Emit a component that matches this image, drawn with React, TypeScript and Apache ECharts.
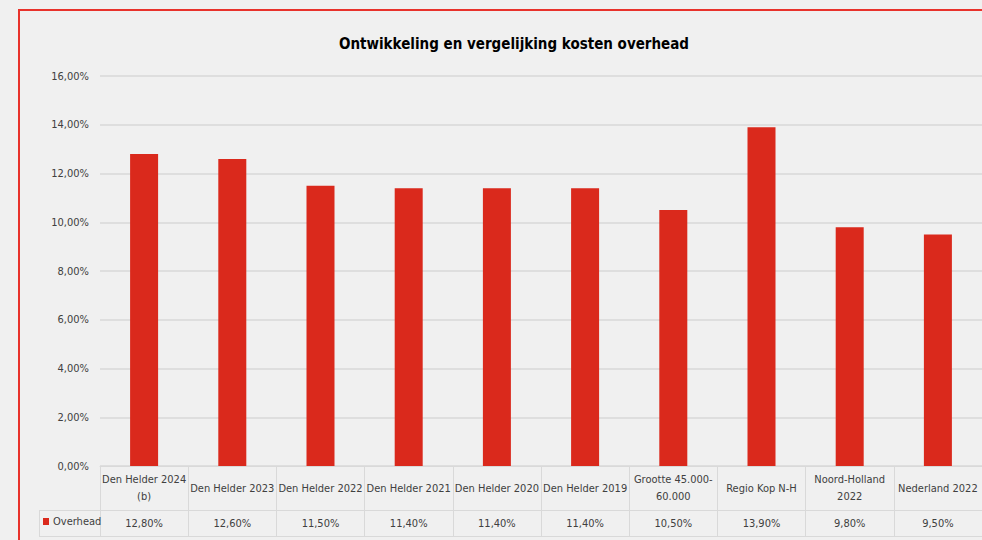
import React, { useEffect, useRef } from "react";
import * as echarts from "echarts";

const categories = [
  "Den Helder 2024\n(b)",
  "Den Helder 2023",
  "Den Helder 2022",
  "Den Helder 2021",
  "Den Helder 2020",
  "Den Helder 2019",
  "Grootte 45.000-\n60.000",
  "Regio Kop N-H",
  "Noord-Holland\n2022",
  "Nederland 2022",
];
const overhead = [12.8, 12.6, 11.5, 11.4, 11.4, 11.4, 10.5, 13.9, 9.8, 9.5];
const seriesName = "Overhead";
const titleText = "Ontwikkeling en vergelijking kosten overhead";

const FONT = "'Liberation Sans Narrow', 'DejaVu Sans Condensed', sans-serif";
const fmt = (v: number) => v.toFixed(2).replace(".", ",") + "%";

export default function App() {
  const ref = useRef<HTMLDivElement>(null);
  useEffect(() => {
    if (!ref.current) return;
    const chart = echarts.init(ref.current, undefined, { renderer: "svg" });
    const gridLeft = 100;
    const gridTop = 76;
    const gridHeight = 390;
    const gridWidth = 888;
    const lineColor = "#d9d9d9";
    const labelSize = 11;
    chart.setOption({
      animation: false,
      backgroundColor: "#f0f0f0",
      textStyle: { fontFamily: FONT },
      title: {
        text: titleText,
        left: 509,
        textAlign: "center",
        top: 31,
        textStyle: { fontFamily: FONT, fontSize: 15, fontWeight: "bold", color: "#000" },
      },
      legend: {
        data: [seriesName],
        left: 43,
        top: 516,
        padding: 0,
        icon: "rect",
        itemWidth: 6,
        itemHeight: 7,
        itemGap: 4,
        textStyle: { fontFamily: FONT, fontSize: labelSize, color: "#404040", padding: [0, 0, 0, -1] },
      },
      grid: { left: gridLeft, top: gridTop, width: gridWidth, height: gridHeight },
      xAxis: [
        {
          type: "category",
          data: categories,
          position: "bottom",
          axisLine: { show: true, lineStyle: { color: lineColor, width: 1 } },
          axisTick: { show: true, length: 70, interval: 0, lineStyle: { color: lineColor } },
          axisLabel: {
            interval: 0,
            margin: 22,
            verticalAlign: "middle",
            lineHeight: 17,
            fontFamily: FONT,
            fontSize: labelSize,
            color: "#404040",
          },
        },
        {
          type: "category",
          data: categories,
          position: "bottom",
          axisLine: { show: false },
          axisTick: { show: false },
          axisLabel: {
            interval: 0,
            margin: 57,
            verticalAlign: "middle",
            fontFamily: FONT,
            fontSize: labelSize,
            color: "#404040",
            formatter: (_v: string, i: number) => fmt(overhead[i]),
          },
        },
      ],
      yAxis: {
        type: "value",
        min: 0,
        max: 16,
        interval: 2,
        axisLine: { show: false },
        axisTick: { show: false },
        splitLine: { lineStyle: { color: lineColor, width: 1.5 } },
        axisLabel: {
          margin: 11,
          fontFamily: FONT,
          fontSize: labelSize,
          color: "#404040",
          formatter: (v: number) => fmt(v),
        },
      },
      series: [
        {
          name: seriesName,
          type: "bar",
          data: overhead,
          barWidth: 28,
          itemStyle: { color: "#da291c" },
        },
      ],
      graphic: [
        {
          type: "rect",
          shape: { x: 19, y: 10, width: 1000, height: 600 },
          style: { fill: null, stroke: "#e8322b", lineWidth: 2 },
          silent: true,
        },
        {
          type: "line",
          shape: { x1: 39, y1: 510.5, x2: 990, y2: 510.5 },
          style: { stroke: lineColor, lineWidth: 1 },
        },
        {
          type: "line",
          shape: { x1: 39, y1: 536.5, x2: 990, y2: 536.5 },
          style: { stroke: lineColor, lineWidth: 1 },
        },
        {
          type: "line",
          shape: { x1: 39.5, y1: 510, x2: 39.5, y2: 537 },
          style: { stroke: lineColor, lineWidth: 1 },
        },
      ],
    });
    return () => chart.dispose();
  }, []);
  return (
    <div style={{ position: "fixed", left: 0, top: 0, width: 982, height: 540, margin: 0 }}>
      <div ref={ref} style={{ width: 982, height: 540 }} />
    </div>
  );
}
